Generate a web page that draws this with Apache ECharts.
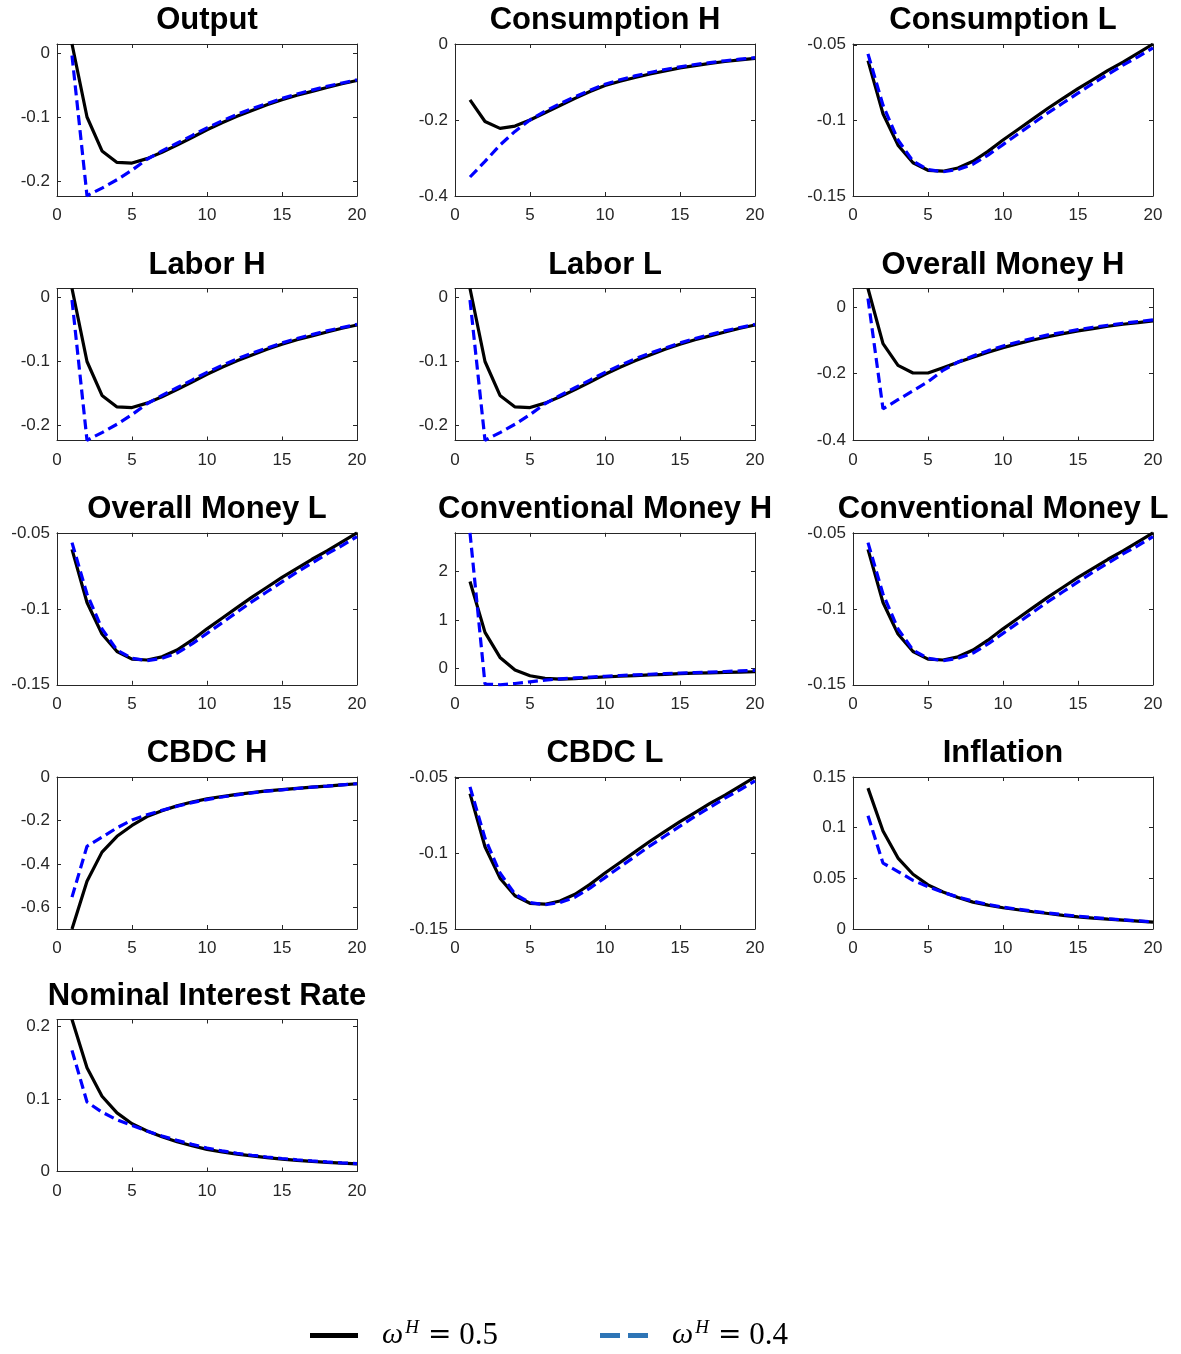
<!DOCTYPE html>
<html>
<head>
<meta charset="utf-8">
<script src="https://cdn.jsdelivr.net/npm/echarts@6/dist/echarts.min.js"></script>
<style>
html,body{margin:0;padding:0;background:#fff;}
#chart{width:1181px;height:1354px;}
</style>
</head>
<body>
<div id="chart"></div>
<script>
// ---------- DATA ----------
const periods = [1,2,3,4,5,6,7,8,9,10,11,12,13,14,15,16,17,18,19,20];
const xTicks = [0,5,10,15,20];
const seriesNames = ['w05','w04'];

// Output
const output05 = [0.014,-0.100,-0.153,-0.171,-0.172,-0.165,-0.155,-0.144,-0.132,-0.120,-0.109,-0.099,-0.090,-0.081,-0.073,-0.066,-0.060,-0.054,-0.048,-0.043];
const output04 = [-0.004,-0.223,-0.211,-0.198,-0.183,-0.166,-0.153,-0.141,-0.129,-0.117,-0.106,-0.096,-0.087,-0.079,-0.071,-0.064,-0.058,-0.052,-0.047,-0.042];
const outputTicks = [-0.2,-0.1,0];
// Consumption H
const consH05 = [-0.147,-0.204,-0.222,-0.216,-0.200,-0.181,-0.162,-0.143,-0.125,-0.109,-0.098,-0.088,-0.079,-0.071,-0.063,-0.057,-0.051,-0.046,-0.042,-0.038];
const consH04 = [-0.350,-0.309,-0.266,-0.230,-0.200,-0.177,-0.157,-0.139,-0.122,-0.106,-0.094,-0.084,-0.075,-0.067,-0.060,-0.054,-0.049,-0.044,-0.040,-0.036];
const consHTicks = [-0.4,-0.2,0];
// Consumption L
const consL05 = [-0.0605,-0.0956,-0.1164,-0.128,-0.133,-0.1336,-0.1315,-0.127,-0.1205,-0.113,-0.106,-0.099,-0.092,-0.0855,-0.079,-0.073,-0.067,-0.0615,-0.0555,-0.0495];
const consL04 = [-0.056,-0.090,-0.113,-0.127,-0.1325,-0.134,-0.1325,-0.129,-0.123,-0.116,-0.109,-0.102,-0.095,-0.0885,-0.082,-0.0755,-0.0695,-0.0635,-0.058,-0.052];
const consLTicks = [-0.15,-0.1,-0.05];
// Labor H
const laborH05 = [0.014,-0.100,-0.153,-0.171,-0.172,-0.165,-0.155,-0.144,-0.132,-0.120,-0.109,-0.099,-0.090,-0.081,-0.073,-0.066,-0.060,-0.054,-0.048,-0.043];
const laborH04 = [-0.004,-0.223,-0.211,-0.198,-0.183,-0.166,-0.153,-0.141,-0.129,-0.117,-0.106,-0.096,-0.087,-0.079,-0.071,-0.064,-0.058,-0.052,-0.047,-0.042];
const laborHTicks = [-0.2,-0.1,0];
// Labor L
const laborL05 = [0.014,-0.100,-0.153,-0.171,-0.172,-0.165,-0.155,-0.144,-0.132,-0.120,-0.109,-0.099,-0.090,-0.081,-0.073,-0.066,-0.060,-0.054,-0.048,-0.043];
const laborL04 = [-0.004,-0.223,-0.211,-0.198,-0.183,-0.166,-0.153,-0.141,-0.129,-0.117,-0.106,-0.096,-0.087,-0.079,-0.071,-0.064,-0.058,-0.052,-0.047,-0.042];
const laborLTicks = [-0.2,-0.1,0];
// Overall Money H
const moneyH05 = [0.055,-0.110,-0.175,-0.198,-0.198,-0.182,-0.166,-0.151,-0.136,-0.122,-0.110,-0.099,-0.089,-0.080,-0.072,-0.065,-0.058,-0.052,-0.047,-0.042];
const moneyH04 = [0.025,-0.305,-0.278,-0.251,-0.224,-0.190,-0.165,-0.147,-0.131,-0.117,-0.105,-0.094,-0.084,-0.076,-0.068,-0.061,-0.055,-0.049,-0.044,-0.039];
const moneyHTicks = [-0.4,-0.2,0];
// Overall Money L
const moneyL05 = [-0.0605,-0.0956,-0.1164,-0.128,-0.133,-0.1336,-0.1315,-0.127,-0.1205,-0.113,-0.106,-0.099,-0.092,-0.0855,-0.079,-0.073,-0.067,-0.0615,-0.0555,-0.0495];
const moneyL04 = [-0.056,-0.090,-0.113,-0.127,-0.1325,-0.134,-0.1325,-0.129,-0.123,-0.116,-0.109,-0.102,-0.095,-0.0885,-0.082,-0.0755,-0.0695,-0.0635,-0.058,-0.052];
const moneyLTicks = [-0.15,-0.1,-0.05];
// Conventional Money H
const convH05 = [1.795,0.745,0.228,-0.030,-0.150,-0.205,-0.218,-0.208,-0.192,-0.175,-0.160,-0.146,-0.133,-0.120,-0.106,-0.097,-0.089,-0.081,-0.074,-0.068];
const convH04 = [2.800,-0.320,-0.337,-0.310,-0.275,-0.240,-0.215,-0.195,-0.178,-0.160,-0.145,-0.132,-0.119,-0.107,-0.096,-0.085,-0.075,-0.063,-0.050,-0.038];
const convHTicks = [0,1,2];
// Conventional Money L
const convL05 = [-0.0605,-0.0956,-0.1164,-0.128,-0.133,-0.1336,-0.1315,-0.127,-0.1205,-0.113,-0.106,-0.099,-0.092,-0.0855,-0.079,-0.073,-0.067,-0.0615,-0.0555,-0.0495];
const convL04 = [-0.056,-0.090,-0.113,-0.127,-0.1325,-0.134,-0.1325,-0.129,-0.123,-0.116,-0.109,-0.102,-0.095,-0.0885,-0.082,-0.0755,-0.0695,-0.0635,-0.058,-0.052];
const convLTicks = [-0.15,-0.1,-0.05];
// CBDC H
const cbdcH05 = [-0.700,-0.480,-0.346,-0.273,-0.223,-0.182,-0.155,-0.133,-0.115,-0.101,-0.090,-0.080,-0.072,-0.064,-0.058,-0.052,-0.047,-0.042,-0.036,-0.031];
const cbdcH04 = [-0.553,-0.319,-0.277,-0.234,-0.198,-0.174,-0.153,-0.135,-0.118,-0.104,-0.092,-0.082,-0.073,-0.065,-0.059,-0.053,-0.047,-0.042,-0.036,-0.031];
const cbdcHTicks = [-0.6,-0.4,-0.2,0];
// CBDC L
const cbdcL05 = [-0.0605,-0.0956,-0.1164,-0.128,-0.133,-0.1336,-0.1315,-0.127,-0.1205,-0.113,-0.106,-0.099,-0.092,-0.0855,-0.079,-0.073,-0.067,-0.0615,-0.0555,-0.0495];
const cbdcL04 = [-0.056,-0.090,-0.113,-0.127,-0.1325,-0.134,-0.1325,-0.129,-0.123,-0.116,-0.109,-0.102,-0.095,-0.0885,-0.082,-0.0755,-0.0695,-0.0635,-0.058,-0.052];
const cbdcLTicks = [-0.15,-0.1,-0.05];
// Inflation
const infl05 = [0.139,0.0967,0.070,0.054,0.0435,0.0365,0.031,0.0265,0.0235,0.021,0.019,0.017,0.0153,0.0135,0.012,0.0108,0.0097,0.0087,0.0077,0.0067];
const infl04 = [0.1117,0.065,0.0567,0.048,0.0417,0.0362,0.0315,0.0275,0.0243,0.0215,0.0195,0.0176,0.0158,0.0142,0.0127,0.0113,0.0101,0.009,0.008,0.007];
const inflTicks = [0,0.05,0.1,0.15];
// Nominal Interest Rate
const rate05 = [0.210,0.1434,0.104,0.081,0.066,0.056,0.048,0.041,0.0355,0.0305,0.027,0.024,0.0215,0.0192,0.017,0.0153,0.0139,0.0127,0.0116,0.0106];
const rate04 = [0.1674,0.096,0.082,0.0715,0.0636,0.056,0.049,0.043,0.0375,0.0325,0.0285,0.0252,0.0225,0.020,0.018,0.0162,0.0146,0.0132,0.012,0.011];
const rateTicks = [0,0.1,0.2];

const panels = [
  {title:'Output', a:output05, b:output04, ticks:outputTicks, min:-0.2234, max:0.014},
  {title:'Consumption H', a:consH05, b:consH04, ticks:consHTicks, min:-0.4, max:0},
  {title:'Consumption L', a:consL05, b:consL04, ticks:consLTicks, min:-0.15, max:-0.0495},
  {title:'Labor H', a:laborH05, b:laborH04, ticks:laborHTicks, min:-0.2234, max:0.014},
  {title:'Labor L', a:laborL05, b:laborL04, ticks:laborLTicks, min:-0.2234, max:0.014},
  {title:'Overall Money H', a:moneyH05, b:moneyH04, ticks:moneyHTicks, min:-0.4, max:0.055},
  {title:'Overall Money L', a:moneyL05, b:moneyL04, ticks:moneyLTicks, min:-0.15, max:-0.0495},
  {title:'Conventional Money H', a:convH05, b:convH04, ticks:convHTicks, min:-0.337, max:2.8},
  {title:'Conventional Money L', a:convL05, b:convL04, ticks:convLTicks, min:-0.15, max:-0.0495},
  {title:'CBDC H', a:cbdcH05, b:cbdcH04, ticks:cbdcHTicks, min:-0.70, max:0},
  {title:'CBDC L', a:cbdcL05, b:cbdcL04, ticks:cbdcLTicks, min:-0.15, max:-0.0495},
  {title:'Inflation', a:infl05, b:infl04, ticks:inflTicks, min:0, max:0.15},
  {title:'Nominal Interest Rate', a:rate05, b:rate04, ticks:rateTicks, min:0, max:0.21}
];

// ---------- LAYOUT ----------
const colLeft = [57, 455, 853];
const colWidth = 300;
const rowTop = [44, 288.5, 532.8, 777, 1019.5];
const plotH = 152;
const axisColor = '#262626';
const labelFont = {color:'#262626', fontSize:17, fontFamily:'Liberation Sans, Arial, sans-serif'};

const grids = [], xAxes = [], yAxes = [], titlesOpt = [], series = [];
panels.forEach((p, i) => {
  const r = Math.floor(i/3), c = i%3;
  grids.push({left:colLeft[c], top:rowTop[r], width:colWidth, height:plotH, containLabel:false});
  titlesOpt.push({
    text:p.title, left:colLeft[c] + colWidth/2, top:rowTop[r]-39, textAlign:'center', padding:0,
    textStyle:{fontSize:31, fontWeight:'bold', color:'#000', fontFamily:'Liberation Sans, Arial, sans-serif', lineHeight:31}
  });
  const tickStyle = {show:true, inside:true, length:4, lineStyle:{color:axisColor, width:1}};
  const lineStyle = {show:true, onZero:false, lineStyle:{color:axisColor, width:1}};
  xAxes.push({gridIndex:i, type:'value', position:'bottom', min:0, max:20, interval:5,
    axisLine:lineStyle, axisTick:Object.assign({customValues:xTicks}, tickStyle), splitLine:{show:false},
    axisLabel:Object.assign({margin:11, customValues:xTicks, showMinLabel:true, showMaxLabel:true}, labelFont)});
  xAxes.push({gridIndex:i, type:'value', position:'top', min:0, max:20, interval:5,
    axisLine:lineStyle, axisTick:Object.assign({customValues:xTicks}, tickStyle), splitLine:{show:false}, axisLabel:{show:false}});
  yAxes.push({gridIndex:i, type:'value', position:'left', min:p.min, max:p.max,
    axisLine:lineStyle, axisTick:Object.assign({customValues:p.ticks}, tickStyle), splitLine:{show:false},
    axisLabel:Object.assign({margin:7, customValues:p.ticks, formatter:v=>String(+(+v).toFixed(4))}, labelFont)});
  yAxes.push({gridIndex:i, type:'value', position:'right', min:p.min, max:p.max,
    axisLine:lineStyle, axisTick:Object.assign({customValues:p.ticks}, tickStyle), splitLine:{show:false},
    axisLabel:{show:false}});
  series.push({type:'line', name:seriesNames[0], xAxisIndex:2*i, yAxisIndex:2*i,
    data:periods.map((t,j)=>[t,p.a[j]]), symbol:'none', showSymbol:false, clip:true,
    lineStyle:{color:'#000', width:3.2}, itemStyle:{color:'#000'}, z:2, silent:true, animation:false});
  series.push({type:'line', name:seriesNames[1], xAxisIndex:2*i, yAxisIndex:2*i,
    data:periods.map((t,j)=>[t,p.b[j]]), symbol:'none', showSymbol:false, clip:true,
    lineStyle:{color:'#0000ff', width:3.2, type:[10,5]}, itemStyle:{color:'#0000ff'}, z:3, silent:true, animation:false});
});

// legend dummy series (colour only)
series.push({type:'line', name:'leg05', xAxisIndex:0, yAxisIndex:0, data:[], itemStyle:{color:'#000'}, lineStyle:{color:'#000'}});
series.push({type:'line', name:'leg04', xAxisIndex:0, yAxisIndex:0, data:[], itemStyle:{color:'#2e75b6'}, lineStyle:{color:'#2e75b6'}});

const legRich = {
  w:{fontFamily:'Liberation Serif, serif', fontStyle:'italic', fontSize:30, color:'#000', padding:[0,0,0,19]},
  h:{fontFamily:'Liberation Serif, serif', fontStyle:'italic', fontSize:19, color:'#000', padding:[0,0,16,2]},
  q:{fontFamily:'DejaVu Serif, serif', fontSize:28, color:'#000', padding:[0,8,0,9]},
  n:{fontFamily:'Liberation Serif, serif', fontSize:31, color:'#000'}
};
const legLabels = {leg05:'0.5', leg04:'0.4'};
const legFmt = n => '{w|ω}{h|H}{q|=}{n|' + legLabels[n] + '}';
const legends = [
  {data:[{name:'leg05', icon:'rect'}], left:310, top:1318, padding:0, itemWidth:48, itemHeight:5,
   formatter:legFmt, textStyle:{rich:legRich}, selectedMode:false},
  {data:[{name:'leg04', icon:'path://M0 0H20V5H0Z M28 0H48V5H28Z'}], left:600, top:1318, padding:0, itemWidth:48, itemHeight:5,
   formatter:legFmt, textStyle:{rich:legRich}, selectedMode:false}
];

const chart = echarts.init(document.getElementById('chart'), null, {renderer:'canvas'});
chart.setOption({
  backgroundColor:'#fff',
  animation:false,
  title:titlesOpt,
  grid:grids,
  xAxis:xAxes,
  yAxis:yAxes,
  legend:legends,
  series:series
});
</script>
</body>
</html>
